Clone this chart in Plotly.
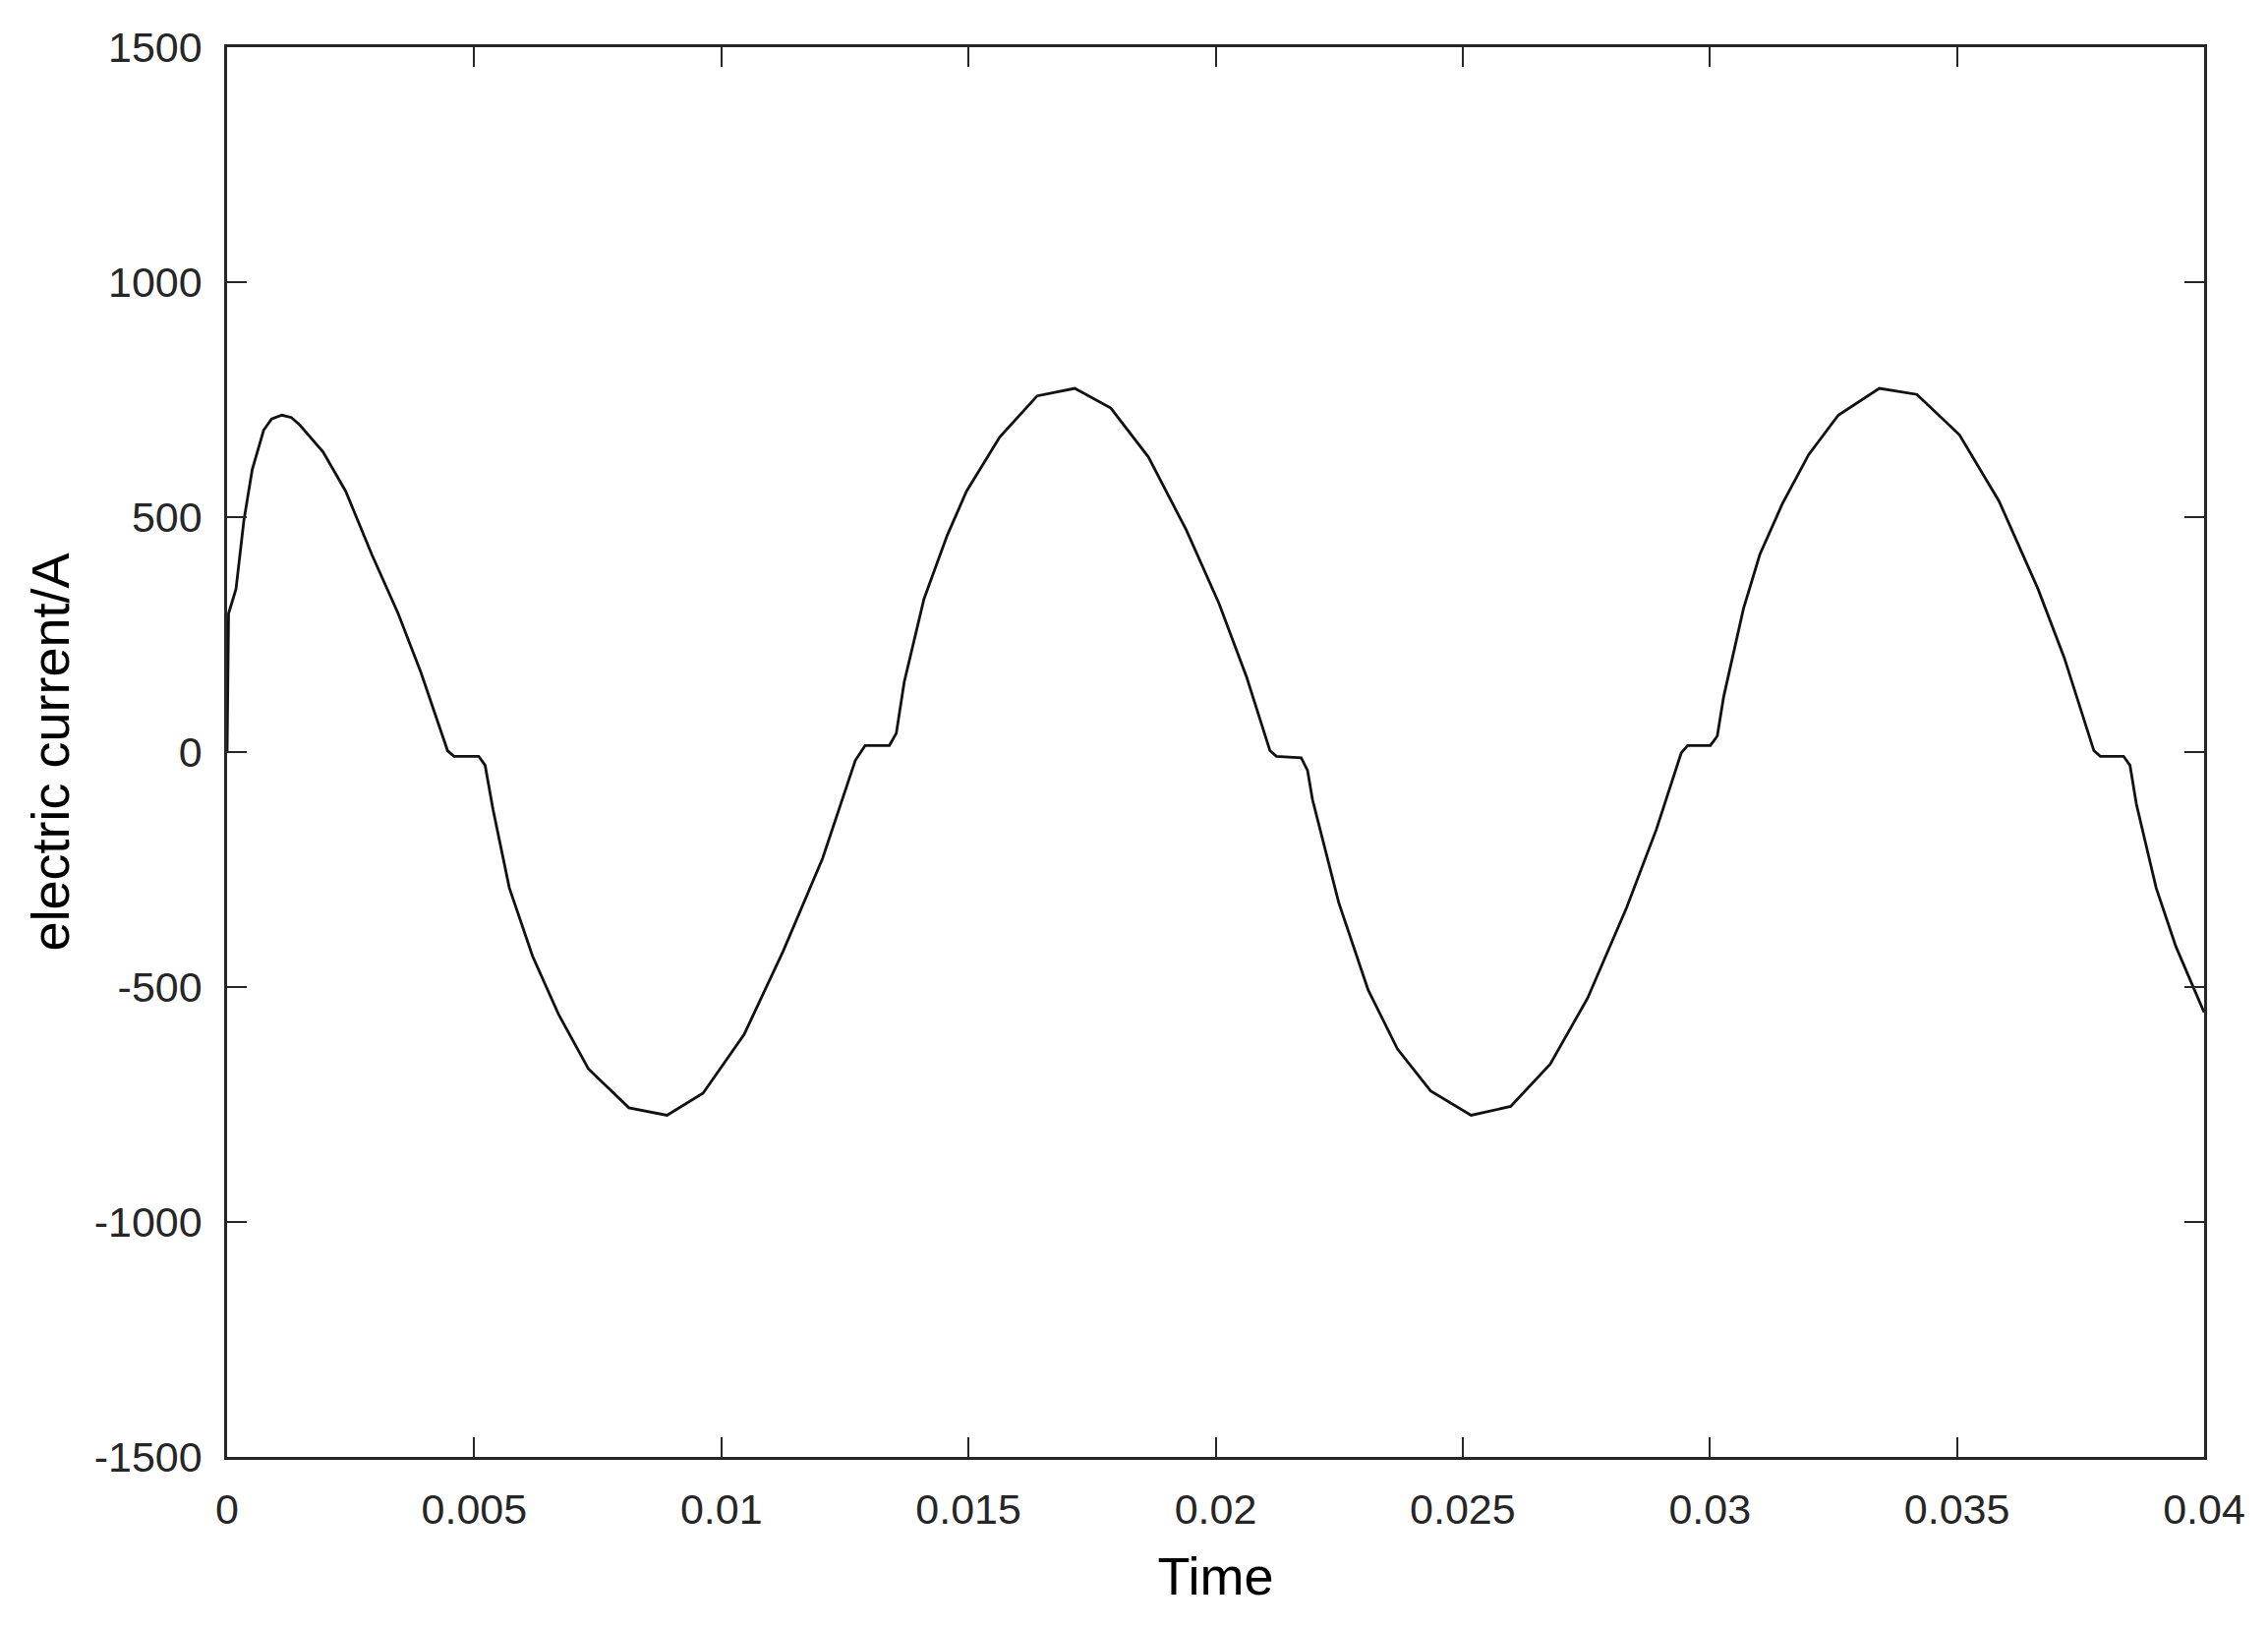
import plotly.graph_objects as go

# Time (s) and electric current (A)
time = [0.0, 0.00003, 0.00018, 0.00034, 0.00051, 0.00074, 0.0009, 0.00111, 0.0013, 0.00147, 0.00194, 0.0024,
        0.00293, 0.00346, 0.00392, 0.00446, 0.00459, 0.00509, 0.00522, 0.00538, 0.00571, 0.00618,
        0.00671, 0.00731, 0.00813, 0.0089, 0.00963, 0.01046, 0.01125, 0.01205, 0.01271, 0.01291,
        0.0134, 0.01354, 0.0137, 0.0141, 0.01457, 0.01496, 0.01563, 0.01639, 0.01715, 0.01788,
        0.01864, 0.01941, 0.02007, 0.02063, 0.0211, 0.02123, 0.02173, 0.02186, 0.02196, 0.02249,
        0.02309, 0.02368, 0.02435, 0.02517, 0.02597, 0.02677, 0.02753, 0.02832, 0.02892, 0.02942,
        0.02955, 0.03001, 0.03015, 0.03028, 0.03068, 0.03101, 0.03147, 0.032, 0.0326, 0.03343,
        0.03419, 0.03505, 0.03585, 0.03664, 0.03717, 0.03777, 0.0379, 0.03837, 0.0385, 0.03863,
        0.03903, 0.03943, 0.04]
current = [0, 295, 347, 493, 602, 685, 709, 717, 712, 696, 639, 555,
           420, 295, 170, 3, -9, -9, -28, -122, -289, -434,
           -559, -674, -757, -773, -726, -601, -424, -226, -18, 14,
           14, 40, 149, 326, 461, 555, 670, 758, 774, 732,
           628, 472, 316, 159, 3, -9, -12, -39, -101, -320,
           -507, -632, -721, -773, -754, -664, -523, -330, -164, -2,
           14, 14, 34, 118, 305, 420, 529, 633, 717, 774,
           761, 675, 534, 347, 201, 3, -9, -9, -28, -111,
           -289, -414, -554]

x_ticks = [0, 0.005, 0.01, 0.015, 0.02, 0.025, 0.03, 0.035, 0.04]
x_tick_labels = ["0", "0.005", "0.01", "0.015", "0.02", "0.025", "0.03", "0.035", "0.04"]
y_ticks = [-1500, -1000, -500, 0, 500, 1000, 1500]
y_tick_labels = ["-1500", "-1000", "-500", "0", "500", "1000", "1500"]

axis_color = "#262626"
font_family = "Liberation Sans, Arial, sans-serif"

fig = go.Figure()
fig.add_trace(go.Scatter(x=time, y=current, mode="lines",
                         line=dict(color="#111111", width=2.8, shape="linear"), showlegend=False))

axis_common = dict(
    showline=True, linecolor=axis_color, linewidth=2.5, mirror="ticks",
    ticks="inside", ticklen=20, tickwidth=2, tickcolor=axis_color,
    showgrid=False, zeroline=False,
    tickfont=dict(family=font_family, size=43, color=axis_color),
)

fig.update_layout(
    width=2299, height=1648,
    margin=dict(l=223, r=65, t=40, b=174),
    paper_bgcolor="white", plot_bgcolor="white",
    xaxis=dict(range=[0, 0.04], tickvals=x_ticks, ticktext=x_tick_labels,
               title=dict(text="Time", font=dict(family=font_family, size=54, color="#000000"),
                          standoff=26),
               ticklabelstandoff=14, **axis_common),
    yaxis=dict(range=[-1500, 1500], tickvals=y_ticks, ticktext=y_tick_labels,
               title=dict(text="electric current/A", font=dict(family=font_family, size=54, color="#000000"),
                          standoff=8),
               ticklabelstandoff=14, **axis_common),
)

fig.write_html("out.html", config={"displayModeBar": False})
